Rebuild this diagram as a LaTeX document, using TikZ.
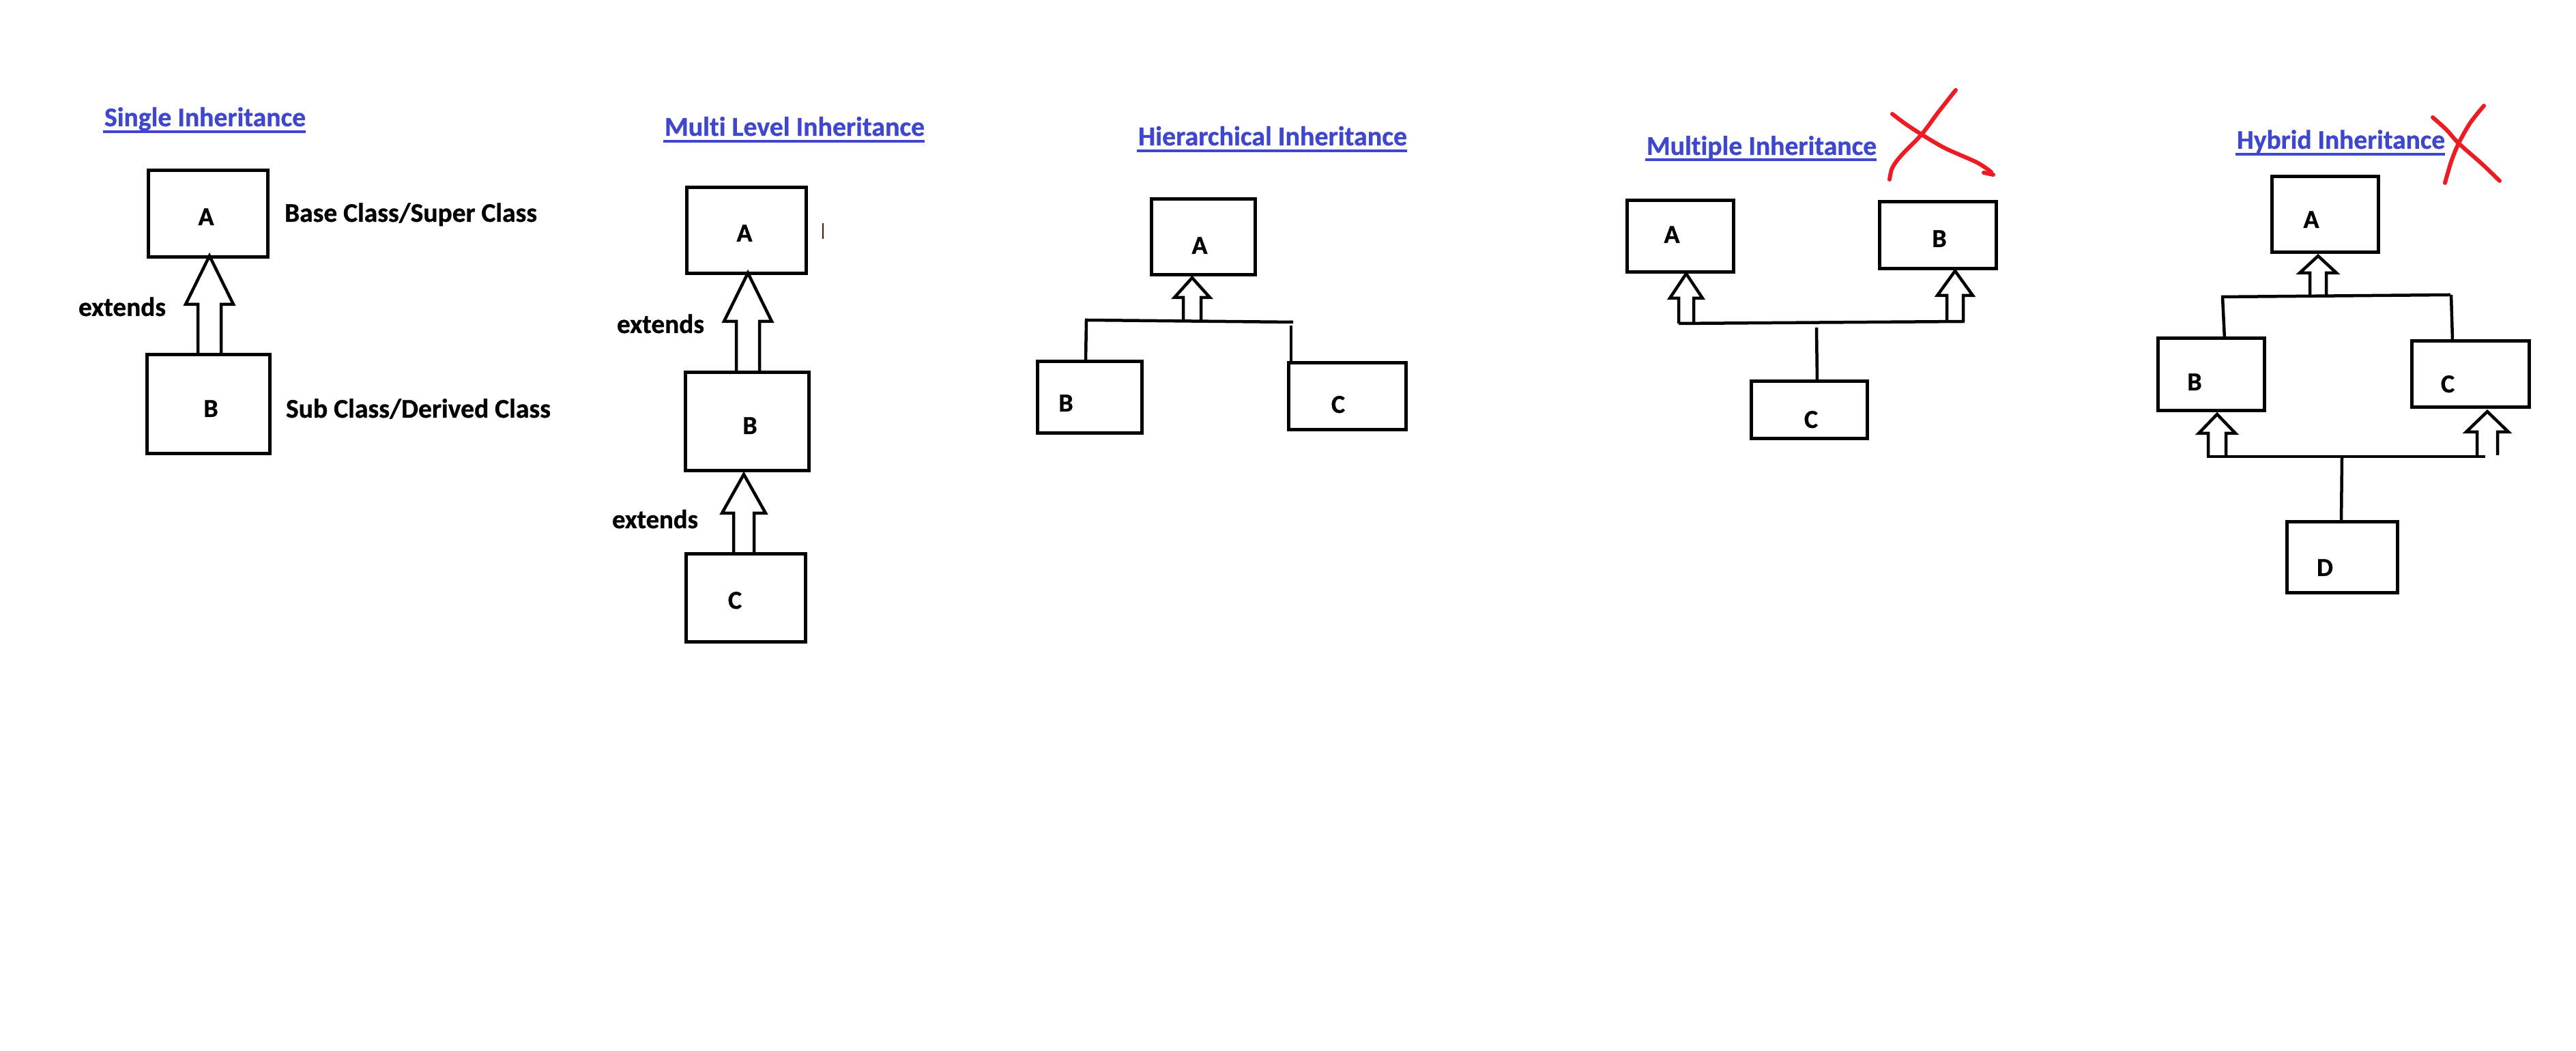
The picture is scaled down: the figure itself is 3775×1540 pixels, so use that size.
\documentclass[tikz,border=0pt]{standalone}
\usepackage{fontspec}
\usepackage{graphicx}
\usetikzlibrary{fit}
\newfontfamily\calfont{Carlito}[Ligatures=NoCommon,BoldFeatures={FakeBold=0.8}]
\newcommand\calb{\calfont\bfseries}
\definecolor{ttl}{RGB}{63,72,204}
\definecolor{xred}{RGB}{237,28,36}
\newcommand\harrow[6]{\draw[arrowline] ({#1-#6},#4) -- ({#1-#6},#3) -- ({#1-#5},#3) -- (#1,#2) -- ({#1+#5},#3) -- ({#1+#6},#3) -- ({#1+#6},#4);}
\begin{document}
\begin{tikzpicture}[x=0.2pt,y=-0.2pt,
  box/.style={draw=black,line width=1pt,inner sep=0pt,outer sep=0pt},
  conn/.style={draw=black,line width=0.9pt},
  arrowline/.style={draw=black,line width=0.9pt,line join=miter},
  ttlnode/.style={anchor=base west,inner sep=0pt,text=ttl},
  uline/.style={draw=ttl,line width=0.7pt},
  txt/.style={anchor=base west,inner sep=0pt,text=black},
  calL/.style={anchor=base,inner sep=0pt,font=\calb\fontsize{7.6}{8}\selectfont},
  redx/.style={draw=xred,line width=1.2pt,line cap=round,line join=round}]
\useasboundingbox (0,0) rectangle (3775,1540);
\fill[white] (0,0) rectangle (3775,1540);

% ---------- Single Inheritance ----------
\node[ttlnode] (t1) at (152,185) {\resizebox{59pt}{!}{\calb Single Inheritance}};
\draw[uline] (151,193) -- (448,193);
\node[box,fit={(217.5,249.5) (392.5,376.5)}] (sA) {};
\node[box,fit={(215.5,519.5) (395.5,664.5)}] (sB) {};
\node[calL] (sAt) at (302,330) {A};
\node[calL] (sBt) at (309,611) {B};
\node[txt] (sAl) at (416,325) {\resizebox{74pt}{!}{\calb Base Class/Super Class}};
\node[txt] (sBl) at (418,612) {\resizebox{77.6pt}{!}{\calb Sub Class/Derived Class}};
\node[txt] (sE) at (114,463) {\resizebox{25.6pt}{!}{\calb extends}};
\harrow{307}{375}{446}{518}{35}{17}

% ---------- Multi Level Inheritance ----------
\node[ttlnode] (t2) at (973,199) {\resizebox{76.2pt}{!}{\calb Multi Level Inheritance}};
\draw[uline] (972,207) -- (1355,207);
\node[box,fit={(1006.5,274.5) (1181.5,400.5)}] (mA) {};
\node[box,fit={(1004.5,545.5) (1185.5,689.5)}] (mB) {};
\node[box,fit={(1005.5,811.5) (1180.5,940.5)}] (mC) {};
\node[calL] (mAt) at (1091,354) {A};
\node[calL] (mBt) at (1099,636) {B};
\node[calL] (mCt) at (1077,892) {C};
\node[txt] (mE1) at (903,488) {\resizebox{25.6pt}{!}{\calb extends}};
\node[txt] (mE2) at (896,774) {\resizebox{25.2pt}{!}{\calb extends}};
\harrow{1096}{400}{471}{544}{35}{17}
\harrow{1090}{695}{752}{810}{32}{15}
\draw[line width=0.3pt,color=black!75!orange] (1206,327) -- (1206,350);

% ---------- Hierarchical Inheritance ----------
\node[ttlnode] (t3) at (1667,213) {\resizebox{78.8pt}{!}{\calb Hierarchical Inheritance}};
\draw[uline] (1666,221) -- (2062,221);
\node[box,fit={(1687.5,291.5) (1839.5,402.5)}] (hA) {};
\node[box,fit={(1520.5,529.5) (1673.5,634.5)}] (hB) {};
\node[box,fit={(1888,531.5) (2060.5,629.5)}] (hC) {};
\node[calL] (hAt) at (1758,372) {A};
\node[calL] (hBt) at (1562,603) {B};
\node[calL] (hCt) at (1961,605) {C};
\harrow{1747}{407}{436}{469}{26}{13}
\draw[conn] (1591,529) -- (1592,469) -- (1895,472);
\draw[conn] (1892,477) -- (1892,530);

% ---------- Multiple Inheritance ----------
\node[ttlnode] (t4) at (2412,227) {\resizebox{67.4pt}{!}{\calb Multiple Inheritance}};
\draw[uline] (2411,234) -- (2750,234);
\node[box,fit={(2384.5,293.5) (2540.5,398.5)}] (pA) {};
\node[box,fit={(2754.5,295.5) (2925.5,393.5)}] (pB) {};
\node[box,fit={(2566.5,558.5) (2736.5,642.5)}] (pC) {};
\node[calL] (pAt) at (2450,356) {A};
\node[calL] (pBt) at (2842,362) {B};
\node[calL] (pCt) at (2654,627) {C};
\harrow{2471}{401}{437}{474}{24}{11}
\harrow{2865}{397}{433}{471}{26}{12}
\draw[conn] (2460,474) -- (2879,471);
\draw[conn] (2662,480) -- (2663,560);
\draw[redx] plot[smooth] coordinates {(2866,132) (2840,165) (2816,197) (2786,228) (2773,246) (2769,263)};
\draw[redx] plot[smooth] coordinates {(2773,167) (2793,182) (2816,197) (2850,217) (2897,238) (2918,252)};
\draw[redx] (2907,253) -- (2921,256);

% ---------- Hybrid Inheritance ----------
\node[ttlnode] (t5) at (3277,218) {\resizebox{61pt}{!}{\calb Hybrid Inheritance}};
\draw[uline] (3276,226) -- (3583,226);
\node[box,fit={(3329.5,258.5) (3485.5,369.5)}] (yA) {};
\node[box,fit={(3162.5,495.5) (3318.5,601.5)}] (yB) {};
\node[box,fit={(3534.5,499.5) (3706.5,596.5)}] (yC) {};
\node[box,fit={(3351.5,764.5) (3513.5,868.5)}] (yD) {};
\node[calL] (yAt) at (3387,334) {A};
\node[calL] (yBt) at (3216,572) {B};
\node[calL] (yCt) at (3587,575) {C};
\node[calL] (yDt) at (3407,844) {D};
\harrow{3397}{375}{400}{433}{27}{12}
\harrow{3249}{607}{635}{668}{27}{13}
\harrow{3645}{603}{633}{667}{31}{15}
\draw[conn] (3255,435) -- (3591,432);
\draw[conn] (3257,435) -- (3260,497);
\draw[conn] (3592,432) -- (3594,498);
\draw[conn] (3234,669) -- (3642,669);
\draw[conn] (3432,670) -- (3431,765);
\draw[redx] plot[smooth] coordinates {(3640,155) (3620,180) (3603,210) (3592,237) (3583,268)};
\draw[redx] plot[smooth] coordinates {(3565,172) (3585,190) (3603,210) (3637,240) (3663,265)};
\end{tikzpicture}
\end{document}
